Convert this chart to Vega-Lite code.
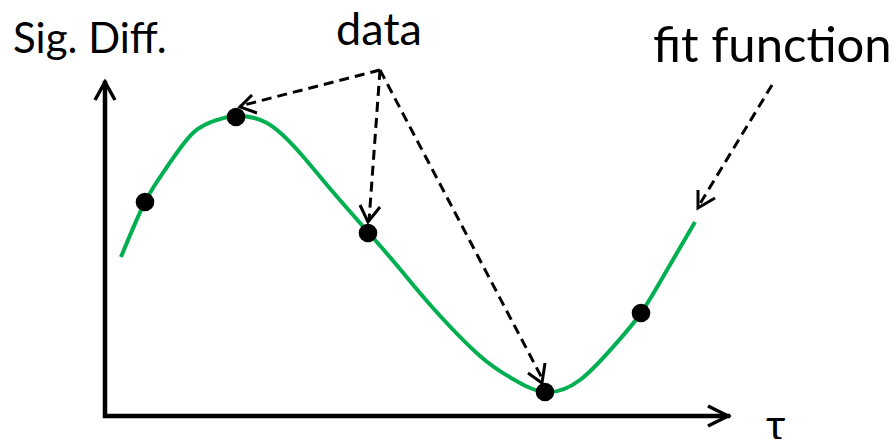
{
  "$schema": "https://vega.github.io/schema/vega-lite/v6.json",
  "autosize": "none",
  "width": 894,
  "height": 439,
  "padding": 0,
  "background": "white",
  "config": {"view": {"stroke": null}},
  "datasets": {
    "frame": [
      {"id": "frame", "o": 0, "x": 0, "y": 333},
      {"id": "frame", "o": 1, "x": 0, "y": 0},
      {"id": "frame", "o": 2, "x": 623, "y": 0}
    ],
    "heads": [
      {"id": "ya", "o": 0, "x": -10, "y": 316},
      {"id": "ya", "o": 1, "x": 0, "y": 334},
      {"id": "ya", "o": 2, "x": 10, "y": 316},
      {"id": "xa", "o": 0, "x": 603, "y": 10},
      {"id": "xa", "o": 1, "x": 623, "y": 0},
      {"id": "xa", "o": 2, "x": 603, "y": -10}
    ],
    "curve": [
      {"x": 16, "y": 159},
      {"x": 40, "y": 214},
      {"x": 62, "y": 249},
      {"x": 88, "y": 283},
      {"x": 112, "y": 296},
      {"x": 131, "y": 300},
      {"x": 162, "y": 293},
      {"x": 195, "y": 263},
      {"x": 228, "y": 224},
      {"x": 263, "y": 184},
      {"x": 295, "y": 147},
      {"x": 328, "y": 108},
      {"x": 375, "y": 60},
      {"x": 408, "y": 37},
      {"x": 440, "y": 24},
      {"x": 475, "y": 36},
      {"x": 508, "y": 69},
      {"x": 536, "y": 103},
      {"x": 562, "y": 146},
      {"x": 590, "y": 194}
    ],
    "dots": [
      {"x": 40, "y": 214},
      {"x": 131, "y": 299},
      {"x": 263, "y": 183},
      {"x": 440, "y": 24},
      {"x": 536, "y": 103}
    ],
    "dashes": [
      {"id": "a", "o": 0, "x": 275, "y": 346},
      {"id": "a", "o": 1, "x": 135, "y": 310},
      {"id": "b", "o": 0, "x": 275, "y": 346},
      {"id": "b", "o": 1, "x": 264, "y": 195},
      {"id": "c", "o": 0, "x": 275, "y": 346},
      {"id": "c", "o": 1, "x": 438, "y": 36},
      {"id": "d", "o": 0, "x": 667, "y": 331},
      {"id": "d", "o": 1, "x": 593, "y": 209}
    ],
    "tips": [
      {"id": "a", "o": 0, "x": 147, "y": 321},
      {"id": "a", "o": 1, "x": 135, "y": 309},
      {"id": "a", "o": 2, "x": 152, "y": 303},
      {"id": "b", "o": 0, "x": 255, "y": 211},
      {"id": "b", "o": 1, "x": 263, "y": 194},
      {"id": "b", "o": 2, "x": 275, "y": 209},
      {"id": "c", "o": 0, "x": 423, "y": 43},
      {"id": "c", "o": 1, "x": 437, "y": 33},
      {"id": "c", "o": 2, "x": 440, "y": 53},
      {"id": "d", "o": 0, "x": 593, "y": 226},
      {"id": "d", "o": 1, "x": 593, "y": 208},
      {"id": "d", "o": 2, "x": 610, "y": 218}
    ],
    "labels": [
      {"label": "Sig. Diff.", "x": -92, "y": 363},
      {"label": "data", "x": 274, "y": 371},
      {"label": "fit function", "x": 548, "y": 354},
      {"label": "τ", "x": 661, "y": -24}
    ]
  },
  "encoding": {
    "x": {"field": "x", "type": "quantitative", "scale": {"domain": [-105, 789], "nice": false, "zero": false}, "axis": null},
    "y": {"field": "y", "type": "quantitative", "scale": {"domain": [-23, 416], "nice": false, "zero": false}, "axis": null}
  },
  "layer": [
    {
      "data": {"name": "curve"},
      "mark": {"type": "line", "color": "#00B050", "strokeWidth": 4, "interpolate": "natural"}
    },
    {
      "data": {"name": "frame"},
      "mark": {"type": "line", "color": "black", "strokeWidth": 4.5, "strokeJoin": "miter", "strokeCap": "square"},
      "encoding": {"order": {"field": "o"}, "detail": {"field": "id"}}
    },
    {
      "data": {"name": "heads"},
      "mark": {"type": "line", "color": "black", "strokeWidth": 3.5, "strokeJoin": "miter"},
      "encoding": {"order": {"field": "o"}, "detail": {"field": "id"}}
    },
    {
      "data": {"name": "dashes"},
      "mark": {"type": "line", "color": "black", "strokeWidth": 3, "strokeDash": [10, 6]},
      "encoding": {"order": {"field": "o"}, "detail": {"field": "id"}}
    },
    {
      "data": {"name": "tips"},
      "mark": {"type": "line", "color": "black", "strokeWidth": 3, "strokeJoin": "miter"},
      "encoding": {"order": {"field": "o"}, "detail": {"field": "id"}}
    },
    {
      "data": {"name": "dots"},
      "mark": {"type": "circle", "color": "black", "opacity": 1, "size": 346}
    },
    {
      "data": {"name": "labels"},
      "transform": [{"filter": "datum.label === 'Sig. Diff.'"}],
      "mark": {"type": "text", "font": "Lato", "fontSize": 42, "align": "left", "baseline": "alphabetic", "color": "black"},
      "encoding": {"text": {"field": "label"}}
    },
    {
      "data": {"name": "labels"},
      "transform": [{"filter": "datum.label === 'data'"}],
      "mark": {"type": "text", "font": "Lato", "fontSize": 45, "align": "center", "baseline": "alphabetic", "color": "black"},
      "encoding": {"text": {"field": "label"}}
    },
    {
      "data": {"name": "labels"},
      "transform": [{"filter": "datum.label === 'fit function'"}],
      "mark": {"type": "text", "font": "Lato", "fontSize": 49, "align": "left", "baseline": "alphabetic", "color": "black"},
      "encoding": {"text": {"field": "label"}}
    },
    {
      "data": {"name": "labels"},
      "transform": [{"filter": "datum.label === 'τ'"}],
      "mark": {"type": "text", "font": "Lato", "fontSize": 42, "align": "left", "baseline": "alphabetic", "color": "black"},
      "encoding": {"text": {"field": "label"}}
    }
  ]
}
